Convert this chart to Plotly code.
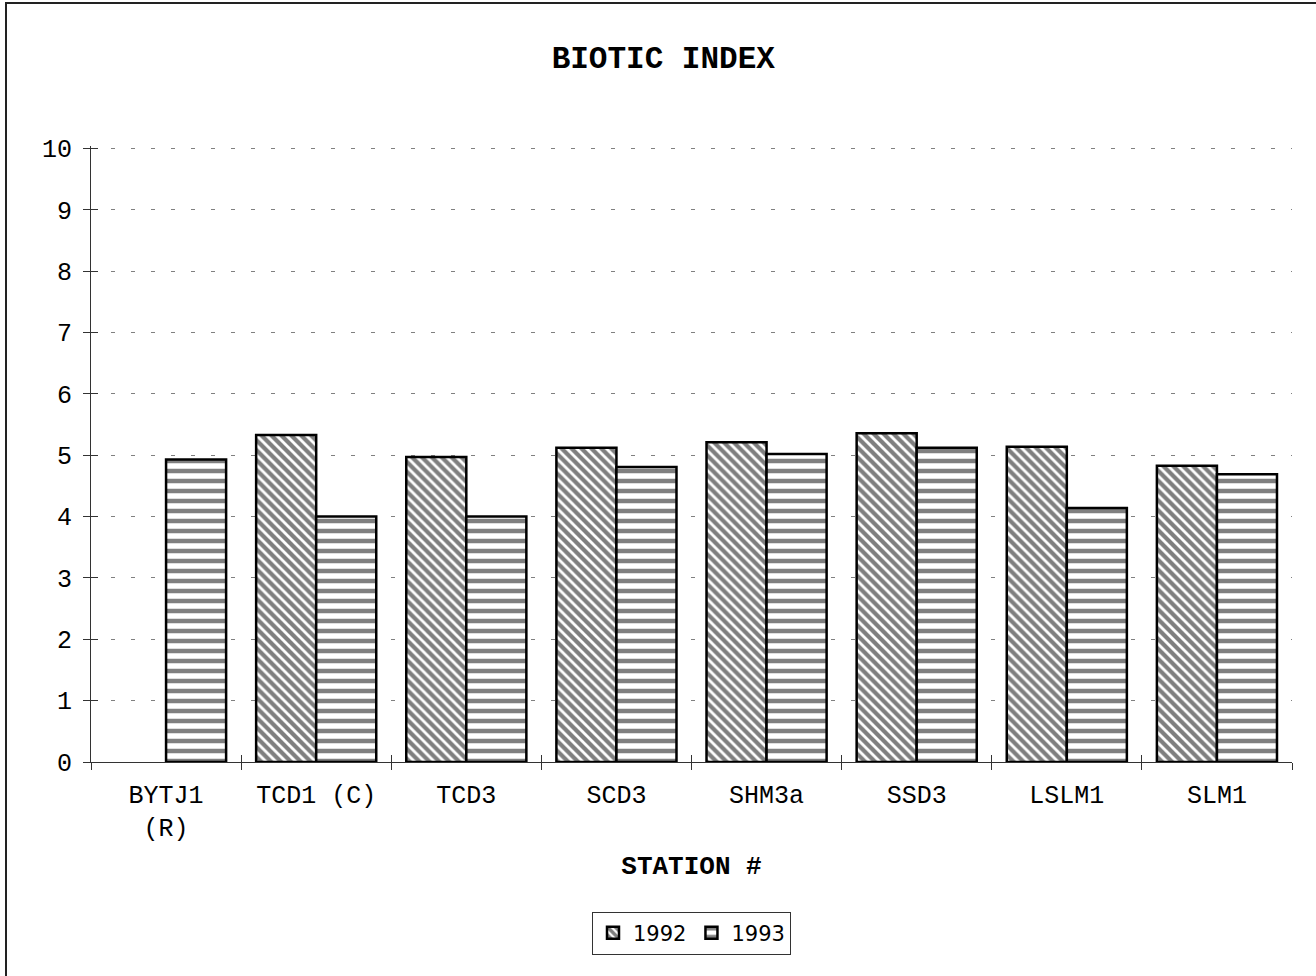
import plotly.graph_objects as go

# Station labels and biotic index per year
stations = ["BYTJ1<br>(R)", "TCD1 (C)", "TCD3", "SCD3", "SHM3a", "SSD3", "LSLM1", "SLM1"]
bi_1992 = [None, 5.33, 4.97, 5.12, 5.21, 5.36, 5.14, 4.83]
bi_1993 = [4.93, 4.00, 4.00, 4.81, 5.02, 5.12, 4.14, 4.69]
y_ticks = list(range(0, 11))
Y_RANGE = [0, 10.04]  # a little headroom so the gridline at 10 is drawn

MONO = "Liberation Mono, Courier New, monospace"
W, H = 1316, 976
L, R, T, B = 91, 24, 146, 214
pw, ph = W - L - R, H - T - B

fig = go.Figure()
fig.add_trace(go.Bar(
    x=stations, y=bi_1992, name="1992",
    marker=dict(color="white", line=dict(color="black", width=2.5),
                pattern=dict(shape="\\", fgcolor="black", bgcolor="white",
                             size=7, solidity=0.6)),
))
fig.add_trace(go.Bar(
    x=stations, y=bi_1993, name="1993",
    marker=dict(color="white", line=dict(color="black", width=2.5),
                pattern=dict(shape="-", fgcolor="black", bgcolor="white",
                             size=10, solidity=0.45)),
))
# empty trace so the overlay axes (inner halves of the crossing ticks) get drawn
fig.add_trace(go.Scatter(x=[], y=[], xaxis="x2", yaxis="y2", showlegend=False,
                         hoverinfo="skip"))

def py(px):
    return (T + ph - px) / ph

fig.update_layout(
    width=W, height=H,
    margin=dict(l=L, r=R, t=T, b=B, autoexpand=False),
    paper_bgcolor="white", plot_bgcolor="white",
    barmode="group", bargap=0.2, bargroupgap=0,
    title=dict(text="<b>BIOTIC INDEX</b>", x=0.504, xanchor="center",
               y=1 - 57 / H, yanchor="middle", yref="container",
               font=dict(family=MONO, size=31, color="black")),
    font=dict(family=MONO, size=25, color="black"),
    xaxis=dict(type="category", tickson="boundaries", ticks="outside", ticklen=7,
               tickcolor="#333", showline=True, linecolor="#333", linewidth=1,
               showgrid=False, tickfont=dict(family=MONO, size=25),
               ticklabelstandoff=10,
               title=dict(text="<b>STATION #</b>", standoff=13,
                          font=dict(family=MONO, size=26))),
    yaxis=dict(range=Y_RANGE, tickvals=y_ticks, ticks="outside", ticklen=7,
               tickcolor="#333", showline=True, linecolor="#333", linewidth=1,
               showgrid=True, gridcolor="#808080", gridwidth=1, griddash="4px,16px",
               zeroline=False, tickfont=dict(family=MONO, size=25),
               ticklabelstandoff=6),
    xaxis2=dict(overlaying="x", range=[-0.5, 7.5], tickvals=[i - 0.5 for i in range(9)],
                ticks="inside", ticklen=7, tickcolor="#333", showticklabels=False,
                showgrid=False, zeroline=False, showline=False, side="bottom"),
    yaxis2=dict(overlaying="y", range=Y_RANGE, tickvals=y_ticks, ticks="inside",
                ticklen=7, tickcolor="#333", showticklabels=False, showgrid=False,
                zeroline=False, showline=False, side="left"),
    legend=dict(orientation="h", x=0.5, xanchor="center", y=py(933), yanchor="middle",
                bordercolor="#333", borderwidth=1, bgcolor="white",
                font=dict(family="DejaVu Sans, Arial, sans-serif", size=21),
                itemwidth=30, traceorder="normal"),
    shapes=[dict(type="rect", xref="paper", yref="paper",
                 x0=(6 - L) / pw, x1=1.2, y0=py(3), y1=-0.6,
                 line=dict(color="#222", width=2), layer="below")],
    showlegend=True,
)

fig.write_html("out.html")
